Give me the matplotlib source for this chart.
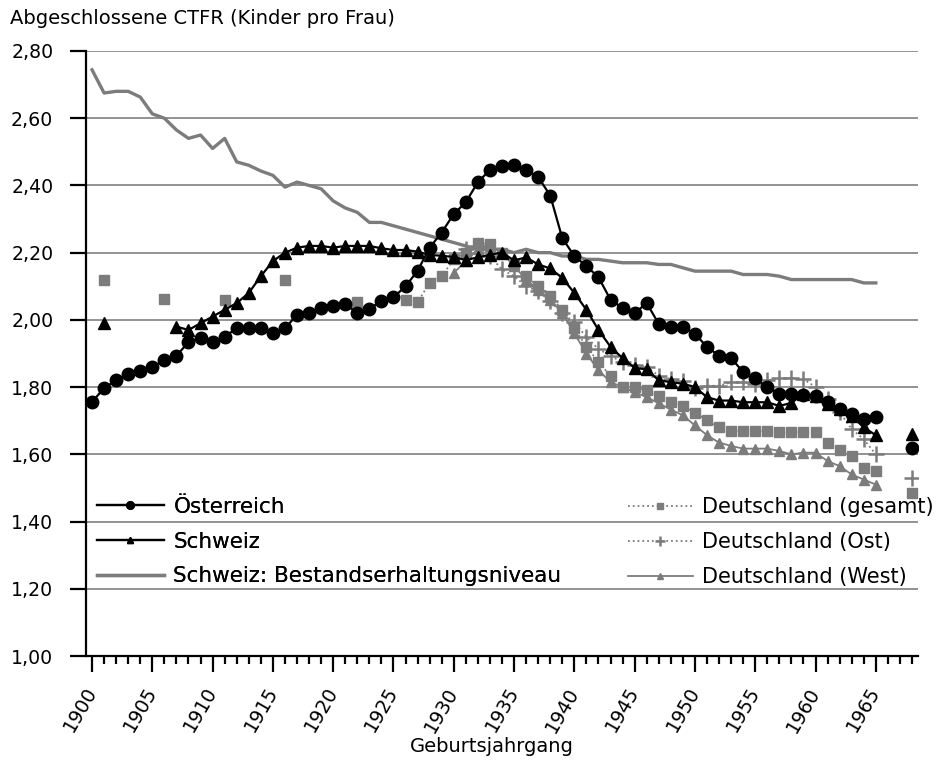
import numpy as np
import matplotlib
matplotlib.use("Agg")
import matplotlib.pyplot as plt
from matplotlib.ticker import MultipleLocator, FuncFormatter

# Geburtsjahrgänge 1900-1965, None = kein Wert
years = list(range(1900, 1966))

oesterreich = [1.756, 1.797, 1.82, 1.838, 1.848, 1.86, 1.88, 1.893, 1.934, 1.946,
               1.934, 1.95, 1.975, 1.975, 1.977, 1.96, 1.975, 2.015, 2.02, 2.035,
               2.04, 2.047, 2.02, 2.032, 2.057, 2.067, 2.10, 2.146, 2.215, 2.26,
               2.315, 2.35, 2.41, 2.446, 2.458, 2.46, 2.446, 2.425, 2.37, 2.243,
               2.19, 2.16, 2.127, 2.06, 2.035, 2.02, 2.05, 1.988, 1.98, 1.98,
               1.958, 1.92, 1.893, 1.886, 1.845, 1.826, 1.80, 1.78, 1.78, 1.777,
               1.775, 1.755, 1.735, 1.72, 1.705, 1.71]

schweiz = [None, 1.99, None, None, None, None, None, 1.98, 1.97, 1.99,
           2.01, 2.03, 2.05, 2.08, 2.13, 2.175, 2.20, 2.215, 2.22, 2.22,
           2.215, 2.22, 2.22, 2.22, 2.213, 2.208, 2.208, 2.203, 2.193, 2.191,
           2.187, 2.178, 2.186, 2.194, 2.20, 2.177, 2.186, 2.165, 2.153, 2.125,
           2.08, 2.03, 1.97, 1.92, 1.886, 1.857, 1.853, 1.82, 1.815, 1.81,
           1.80, 1.77, 1.76, 1.76, 1.755, 1.755, 1.755, 1.744, 1.753, 1.78,
           1.774, 1.75, 1.735, 1.715, 1.68, 1.657]

bestand = [2.744, 2.675, 2.68, 2.68, 2.663, 2.613, 2.60, 2.565, 2.54, 2.55,
           2.51, 2.54, 2.47, 2.46, 2.443, 2.43, 2.395, 2.41, 2.40, 2.39,
           2.354, 2.333, 2.32, 2.29, 2.29, 2.28, 2.27, 2.26, 2.25, 2.24,
           2.23, 2.22, 2.21, 2.21, 2.21, 2.20, 2.21, 2.20, 2.20, 2.19,
           2.19, 2.18, 2.18, 2.175, 2.17, 2.17, 2.17, 2.165, 2.165, 2.155,
           2.145, 2.145, 2.145, 2.145, 2.135, 2.135, 2.135, 2.13, 2.12, 2.12,
           2.12, 2.12, 2.12, 2.12, 2.11, 2.11]

de_gesamt = [None, 2.12, None, None, None, None, 2.062, None, None, None,
             None, 2.06, None, None, None, None, 2.12, None, None, None,
             None, None, 2.053, None, None, None, 2.06, 2.053, 2.11, 2.13,
             2.18, 2.20, 2.23, 2.225, 2.20, 2.165, 2.13, 2.10, 2.07, 2.03,
             1.975, 1.92, 1.875, 1.833, 1.80, 1.80, 1.79, 1.774, 1.755, 1.744,
             1.723, 1.702, 1.68, 1.67, 1.67, 1.67, 1.67, 1.665, 1.665, 1.665,
             1.665, 1.634, 1.614, 1.595, 1.56, 1.55]

de_ost = [None] * 31 + [2.21, 2.22, 2.19, 2.15, 2.13, 2.10, 2.085, 2.055, 2.02,
                        1.993, 1.949, 1.913, 1.893, 1.874, 1.866, 1.86, 1.834, 1.824, 1.819,
                        1.797, 1.804, 1.804, 1.814, 1.814, 1.81, 1.82, 1.827, 1.827, 1.824,
                        1.80, 1.765, 1.726, 1.675, 1.645, 1.60]

de_west = [None] * 30 + [2.14, 2.175, 2.21, 2.22, 2.20, 2.16, 2.12, 2.09, 2.06, 2.02,
                         1.96, 1.90, 1.85, 1.815, 1.80, 1.785, 1.77, 1.752, 1.733, 1.716,
                         1.686, 1.657, 1.635, 1.625, 1.617, 1.617, 1.617, 1.61, 1.60, 1.605,
                         1.605, 1.58, 1.565, 1.54, 1.525, 1.51]

# Einzelwerte Jahrgang 1968
year_late = 1968
late_oesterreich = 1.62
late_schweiz = 1.66
late_de_gesamt = 1.485
late_de_ost = 1.53


def arr(values):
    return np.array([np.nan if v is None else v for v in values], dtype=float)


def main():
    grey = '#7c7c7c'
    fig = plt.figure(figsize=(9.44, 7.65), dpi=100)
    ax = fig.add_axes([86 / 944, 1 - 656 / 765, (918 - 86) / 944, (656 - 51) / 765])

    x = np.array(years)
    ax.plot(x, arr(bestand), color=grey, lw=2.4, label='Schweiz: Bestandserhaltungsniveau', zorder=3)
    ax.plot(x, arr(de_west), color=grey, lw=1.3, marker='^', ms=7, label='Deutschland (West)', zorder=4)
    ax.plot(x, arr(de_ost), color=grey, lw=1.3, ls=':', marker='+', ms=12, mew=1.8,
            label='Deutschland (Ost)', zorder=4)
    ax.plot(x, arr(de_gesamt), color=grey, lw=1.3, ls=':', marker='s', ms=7,
            label='Deutschland (gesamt)', zorder=5)
    ax.plot(x, arr(schweiz), color='black', lw=1.6, marker='^', ms=8, label='Schweiz', zorder=6)
    ax.plot(x, arr(oesterreich), color='black', lw=1.6, marker='o', ms=9, label='Österreich', zorder=7)

    ax.plot([year_late], [late_schweiz], color='black', marker='^', ms=8, ls='none', zorder=6)
    ax.plot([year_late], [late_oesterreich], color='black', marker='o', ms=9, ls='none', zorder=7)
    ax.plot([year_late], [late_de_ost], color=grey, marker='+', ms=12, mew=1.8, ls='none', zorder=4)
    ax.plot([year_late], [late_de_gesamt], color=grey, marker='s', ms=7, ls='none', zorder=5)

    ax.set_xlim(1899.5, 1968.5)
    ax.set_ylim(1.0, 2.8)
    ax.yaxis.set_major_locator(MultipleLocator(0.2))
    ax.yaxis.set_major_formatter(FuncFormatter(lambda v, p: f'{v:.2f}'.replace('.', ',')))
    ax.xaxis.set_major_locator(MultipleLocator(5))
    ax.xaxis.set_minor_locator(MultipleLocator(1))
    ax.set_xticks(list(range(1900, 1966, 5)))

    ax.grid(axis='y', color='#8a8a8a', lw=1.3, zorder=0)
    ax.set_axisbelow(True)
    for s in ['top', 'right']:
        ax.spines[s].set_visible(False)
    for s in ['left', 'bottom']:
        ax.spines[s].set_linewidth(1.6)

    ax.tick_params(axis='y', length=11.5, width=1.6, labelsize=13.6, pad=12)
    ax.tick_params(axis='x', which='major', length=11.5, width=1.6, labelsize=13.8, pad=12)
    ax.tick_params(axis='x', which='minor', length=5.8, width=1.6)
    plt.setp(ax.get_xticklabels(), rotation=60, ha='right', va='center', rotation_mode='anchor')

    fig.text(10 / 944, 1 - 19 / 765, 'Abgeschlossene CTFR (Kinder pro Frau)', fontsize=14, va='center')
    fig.text(492 / 944, 1 - 746 / 765, 'Geburtsjahrgang', fontsize=14, ha='center', va='center')

    h, l = ax.get_legend_handles_labels()
    lookup = dict(zip(l, h))
    left_labels = ['Österreich', 'Schweiz', 'Schweiz: Bestandserhaltungsniveau']
    right_labels = ['Deutschland (gesamt)', 'Deutschland (Ost)', 'Deutschland (West)']
    leg1 = fig.legend([lookup[k] for k in left_labels], left_labels, loc='upper left',
                      bbox_to_anchor=(97 / 944, 1 - 497 / 765), frameon=False, fontsize=15.5,
                      borderpad=0, borderaxespad=0, handlelength=3.1, handletextpad=0.45,
                      labelspacing=0.68, markerscale=0.6)
    fig.add_artist(leg1)
    fig.legend([lookup[k] for k in right_labels], right_labels, loc='upper left',
               bbox_to_anchor=(628 / 944, 1 - 497 / 765), frameon=False, fontsize=15,
               borderpad=0, borderaxespad=0, handlelength=3.1, handletextpad=0.45,
               labelspacing=0.72, markerscale=0.6)

    fig.savefig('out.png', dpi=100)
    plt.close(fig)


if __name__ == '__main__':
    main()
